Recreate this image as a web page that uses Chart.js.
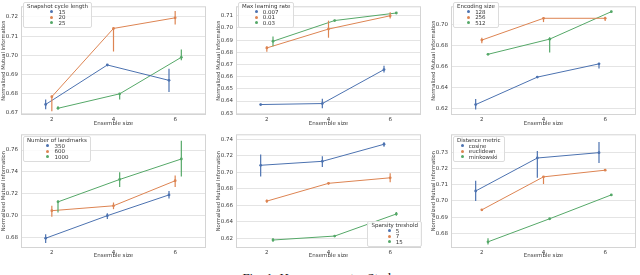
<!DOCTYPE html>
<html>
<head>
<meta charset="utf-8">
<script src="https://cdn.jsdelivr.net/npm/chart.js@4.4.1/dist/chart.umd.min.js"></script>
<style>
  body { margin: 0; width: 640px; height: 275px; overflow: hidden; background: #fff; position: relative; font-family: 'DejaVu Sans', sans-serif; }
  .panel { position: absolute; }
  .legend { position: absolute; background: rgba(255,255,255,0.85); border: 1px solid #dcdcdc; border-radius: 2px;
            font-size: 5.5px; line-height: 5.6px; color: #333; padding: 1px 3px 1px 3px; text-align: center; }
  .legend .items { display: inline-block; text-align: left; }
  .legend .dot { display: inline-block; width: 3px; height: 3px; border-radius: 50%; margin: 0 5px 0 1px; vertical-align: 0.5px; }
  .caption { position: absolute; top: 270px; left: 0; width: 640px; text-align: center; font-family: 'Liberation Serif', serif; font-size: 13px; color: #111; }
</style>
</head>
<body>
<div class="caption">Fig. 1: Hyperparameter Study</div>
<script>
// shared x categories and hue dodge
const ensembleSizes = ['2', '4', '6'];
const dodge = [-0.1, 0, 0.1];
const colors = ['#4c72b0', '#dd8452', '#55a868'];

// Snapshot cycle length
const cycleLabels = ['15', '20', '25'];
const cycleMean = [[0.6745, 0.6950, 0.6870], [0.6785, 0.7140, 0.7195], [0.6725, 0.6800, 0.6990]];
const cycleLow  = [[0.6720, 0.6945, 0.6810], [0.6710, 0.7020, 0.7160], [0.6720, 0.6770, 0.6975]];
const cycleHigh = [[0.6770, 0.6955, 0.6930], [0.6790, 0.7145, 0.7230], [0.6735, 0.6805, 0.7030]];
const cycleTicks = [0.67, 0.68, 0.69, 0.70, 0.71, 0.72];

// Max learning rate
const lrLabels = ['0.007', '0.01', '0.03'];
const lrMean = [[0.6371, 0.6379, 0.6658], [0.6836, 0.6991, 0.7100], [0.6891, 0.7061, 0.7123]];
const lrLow  = [[0.6365, 0.6340, 0.6635], [0.6805, 0.6920, 0.7077], [0.6850, 0.7055, 0.7115]];
const lrHigh = [[0.6377, 0.6418, 0.6690], [0.6850, 0.7060, 0.7130], [0.6930, 0.7067, 0.7131]];
const lrTicks = [0.63, 0.64, 0.65, 0.66, 0.67, 0.68, 0.69, 0.70, 0.71];

// Encoding size
const encLabels = ['128', '256', '512'];
const encMean = [[0.6236, 0.6497, 0.6623], [0.6849, 0.7056, 0.7056], [0.6714, 0.6858, 0.7119]];
const encLow  = [[0.6190, 0.6492, 0.6580], [0.6820, 0.7020, 0.7030], [0.6710, 0.6730, 0.7110]];
const encHigh = [[0.6290, 0.6502, 0.6630], [0.6870, 0.7065, 0.7070], [0.6718, 0.6876, 0.7128]];
const encTicks = [0.62, 0.64, 0.66, 0.68, 0.70];

// Number of landmarks
const lmLabels = ['350', '600', '1000'];
const lmMean = [[0.6790, 0.6997, 0.7188], [0.7043, 0.7088, 0.7318], [0.7124, 0.7330, 0.7518]];
const lmLow  = [[0.6745, 0.6966, 0.7155], [0.6988, 0.7057, 0.7260], [0.7027, 0.7260, 0.7357]];
const lmHigh = [[0.6827, 0.7020, 0.7225], [0.7088, 0.7118, 0.7367], [0.7140, 0.7397, 0.7685]];
const lmTicks = [0.68, 0.70, 0.72, 0.74, 0.76];

// Sparsity treshold
const spLabels = ['5', '7', '15'];
const spMean = [[0.7084, 0.7132, 0.7339], [0.6649, 0.6865, 0.6932], [0.6177, 0.6225, 0.6493]];
const spLow  = [[0.6948, 0.7063, 0.7308], [0.6630, 0.6850, 0.6877], [0.6155, 0.6220, 0.6470]];
const spHigh = [[0.7216, 0.7195, 0.7363], [0.6668, 0.6880, 0.6988], [0.6199, 0.6230, 0.6516]];
const spTicks = [0.62, 0.64, 0.66, 0.68, 0.70, 0.72, 0.74];

// Distance metric
const distLabels = ['cosine', 'euclidean', 'minkowski'];
const distMean = [[0.7061, 0.7264, 0.7297], [0.6945, 0.7148, 0.7189], [0.6748, 0.6890, 0.7037]];
const distLow  = [[0.7000, 0.7142, 0.7234], [0.6940, 0.7104, 0.7185], [0.6732, 0.6886, 0.7033]];
const distHigh = [[0.7124, 0.7307, 0.7362], [0.6950, 0.7152, 0.7193], [0.6770, 0.6894, 0.7041]];
const distTicks = [0.68, 0.69, 0.70, 0.71, 0.72, 0.73];

const panels = [
  { title: 'Snapshot cycle length', labels: cycleLabels, mean: cycleMean, low: cycleLow, high: cycleHigh, ticks: cycleTicks, yMin: 0.669, yMax: 0.7255,
    left: 0, top: 0, row: 0, legend: { left: 23, top: 2 } },
  { title: 'Max learning rate', labels: lrLabels, mean: lrMean, low: lrLow, high: lrHigh, ticks: lrTicks, yMin: 0.6285, yMax: 0.7178,
    left: 215, top: 0, row: 0, legend: { left: 238, top: 2 } },
  { title: 'Encoding size', labels: encLabels, mean: encMean, low: encLow, high: encHigh, ticks: encTicks, yMin: 0.6137, yMax: 0.717,
    left: 430, top: 0, row: 0, legend: { left: 453, top: 2 } },
  { title: 'Number of landmarks', labels: lmLabels, mean: lmMean, low: lmLow, high: lmHigh, ticks: lmTicks, yMin: 0.67, yMax: 0.7745,
    left: 0, top: 128, row: 1, legend: { left: 23, top: 136 } },
  { title: 'Sparsity treshold', labels: spLabels, mean: spMean, low: spLow, high: spHigh, ticks: spTicks, yMin: 0.608, yMax: 0.746,
    left: 215, top: 128, row: 1, legend: { right: 218, top: 221 } },
  { title: 'Distance metric', labels: distLabels, mean: distMean, low: distLow, high: distHigh, ticks: distTicks, yMin: 0.671, yMax: 0.741,
    left: 430, top: 128, row: 1, legend: { left: 453, top: 136 } }
];

Chart.defaults.font.family = "'DejaVu Sans', sans-serif";
Chart.defaults.color = '#3a3a3a';

// vertical CI lines for each point
const errorBars = {
  id: 'errorBars',
  afterDatasetsDraw(chart) {
    const { ctx } = chart;
    const y = chart.scales.y;
    chart.data.datasets.forEach((ds, i) => {
      const meta = chart.getDatasetMeta(i);
      ctx.save();
      ctx.strokeStyle = ds.borderColor;
      ctx.lineWidth = 1.2;
      meta.data.forEach((pt, j) => {
        ctx.beginPath();
        ctx.moveTo(pt.x, y.getPixelForValue(ds.errLow[j]));
        ctx.lineTo(pt.x, y.getPixelForValue(ds.errHigh[j]));
        ctx.stroke();
      });
      ctx.restore();
    });
  }
};

// light frame round the plot area
const frame = {
  id: 'frame',
  beforeDatasetsDraw(chart) {
    const { ctx, chartArea: a } = chart;
    ctx.save();
    ctx.strokeStyle = '#d4d4d4';
    ctx.lineWidth = 1;
    ctx.strokeRect(a.left + 0.5, a.top + 0.5, a.width - 1, a.height - 1);
    ctx.restore();
  }
};

panels.forEach(p => {
  const h = p.row === 0 ? 128 : 132;
  const div = document.createElement('div');
  div.className = 'panel';
  div.style.left = p.left + 'px';
  div.style.top = p.top + 'px';
  const canvas = document.createElement('canvas');
  canvas.width = 210;
  canvas.height = h;
  div.appendChild(canvas);
  document.body.appendChild(div);

  new Chart(canvas, {
    type: 'line',
    data: {
      datasets: p.labels.map((lab, k) => ({
        label: lab,
        data: p.mean[k].map((m, i) => ({ x: i + dodge[k], y: m })),
        errLow: p.low[k],
        errHigh: p.high[k],
        borderColor: colors[k],
        backgroundColor: colors[k],
        borderWidth: 1,
        pointRadius: 1.4,
        pointBorderWidth: 0,
        tension: 0
      }))
    },
    options: {
      responsive: false,
      animation: false,
      devicePixelRatio: 1,
      layout: { padding: { left: 0, right: 1, top: p.row === 0 ? 1 : 5, bottom: 0 } },
      plugins: { legend: { display: false }, tooltip: { enabled: false } },
      scales: {
        x: {
          type: 'linear', min: -0.5, max: 2.5,
          afterBuildTicks: s => { s.ticks = ensembleSizes.map((_, i) => ({ value: i })); },
          afterFit: s => { s.height = p.row === 0 ? 13 : 12; },
          ticks: { callback: v => ensembleSizes[v], font: { size: 5.5 }, padding: 1, maxRotation: 0 },
          grid: { display: false, drawTicks: false },
          border: { display: false },
          title: { display: true, text: 'Ensemble size', font: { size: 5.5 }, padding: { top: 0, bottom: 1.5 } }
        },
        y: {
          min: p.yMin, max: p.yMax,
          afterBuildTicks: s => { s.ticks = p.ticks.map(v => ({ value: v })); },
          afterFit: s => { s.width = 21; },
          ticks: { callback: v => v.toFixed(2), font: { size: 5.5 }, padding: 3 },
          grid: { color: '#e4e4e4', lineWidth: 1, drawTicks: false },
          border: { display: false },
          title: { display: true, text: 'Normalized Mutual Information', font: { size: 5.2 }, padding: { top: 1, bottom: 0 } }
        }
      }
    },
    plugins: [frame, errorBars]
  });

  // legend box
  const lg = document.createElement('div');
  lg.className = 'legend';
  if (p.legend.left !== undefined) lg.style.left = p.legend.left + 'px';
  if (p.legend.right !== undefined) lg.style.right = p.legend.right + 'px';
  lg.style.top = p.legend.top + 'px';
  let html = '<div>' + p.title + '</div><div class="items">';
  p.labels.forEach((lab, k) => {
    html += '<div><span class="dot" style="background:' + colors[k] + '"></span>' + lab + '</div>';
  });
  lg.innerHTML = html + '</div>';
  document.body.appendChild(lg);
});
</script>
</body>
</html>
